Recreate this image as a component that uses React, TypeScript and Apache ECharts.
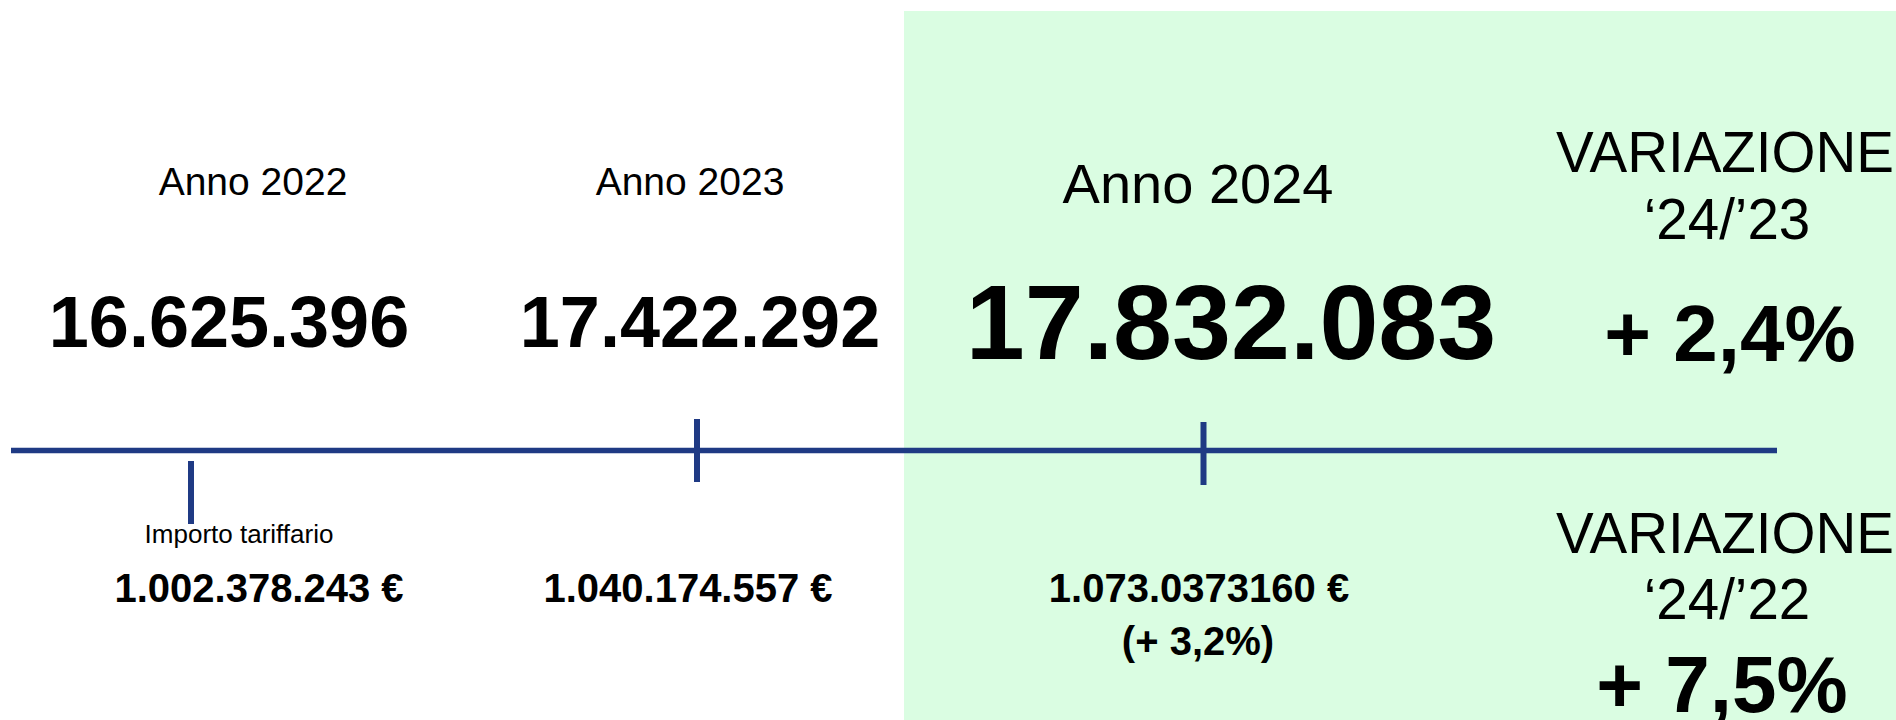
import React, { useEffect, useRef } from "react";
import * as echarts from "echarts";

// ---- data ----
const yearLabels = ["Anno 2022", "Anno 2023", "Anno 2024"];
const totals = ["16.625.396", "17.422.292", "17.832.083"];
const tariffLabel = "Importo tariffario";
const amounts = ["1.002.378.243 €", "1.040.174.557 €", "1.073.0373160 €"];
const amountChange2024 = "(+ 3,2%)";
const variationTitle = "VARIAZIONE";
const variationPeriods = ["‘24/’23", "‘24/’22"];
const variationValues = ["+ 2,4%", "+ 7,5%"];

// ---- layout ----
const FONT = "'Liberation Sans', Arial, sans-serif";
const NAVY = "#1f3a84";
const GREEN = "#dafde2";
const yearX = [253, 690, 1198];
const yearSize = [39, 39, 56];
const totalX = [229, 700, 1231];
const totalSize = [72, 72, 106];
const amountX = [259, 688, 1199];
const varX = 1725;

export default function App() {
  const ref = useRef<HTMLDivElement>(null);

  useEffect(() => {
    document.body.style.margin = "0";
    const chart = echarts.init(ref.current!, null, { renderer: "svg" });
    const txt = (
      text: string,
      x: number,
      y: number,
      size: number,
      bold = false
    ) => ({
      type: "text",
      x,
      y,
      style: {
        text,
        fontFamily: FONT,
        fontSize: size,
        fontWeight: bold ? "bold" : "normal",
        fill: "#000",
        align: "center",
        verticalAlign: "middle",
      },
    });
    const elements: any[] = [
      {
        type: "rect",
        shape: { x: 904, y: 11, width: 992, height: 709 },
        style: { fill: GREEN },
      },
      {
        type: "line",
        shape: { x1: 11, y1: 450.5, x2: 1777, y2: 450.5 },
        style: { stroke: NAVY, lineWidth: 5.5 },
      },
      {
        type: "line",
        shape: { x1: 697, y1: 419, x2: 697, y2: 482 },
        style: { stroke: NAVY, lineWidth: 6 },
      },
      {
        type: "line",
        shape: { x1: 1203.5, y1: 422, x2: 1203.5, y2: 485 },
        style: { stroke: NAVY, lineWidth: 6 },
      },
      {
        type: "line",
        shape: { x1: 191, y1: 461, x2: 191, y2: 524 },
        style: { stroke: NAVY, lineWidth: 6 },
      },
    ];
    yearLabels.forEach((t, i) =>
      elements.push(txt(t, yearX[i], i === 2 ? 183 : 181.5, yearSize[i]))
    );
    totals.forEach((t, i) =>
      elements.push(txt(t, totalX[i], 322, totalSize[i], true))
    );
    elements.push(txt(tariffLabel, 239, 533.5, 26));
    amounts.forEach((t, i) =>
      elements.push(txt(t, amountX[i], 587.5, 40, true))
    );
    elements.push(txt(amountChange2024, 1198, 641, 40, true));
    // variation blocks
    const varTitleY = [152, 533];
    const varPeriodY = [219, 599];
    const varValueY = [333, 684];
    variationPeriods.forEach((p, i) => {
      elements.push(txt(variationTitle, varX, varTitleY[i], 56.5));
      elements.push(txt(p, varX + 2, varPeriodY[i], 56.5));
      elements.push(
        txt(variationValues[i], varX + (i === 0 ? 5 : -3), varValueY[i], 80, true)
      );
    });

    chart.setOption({
      animation: false,
      backgroundColor: "#ffffff",
      graphic: { elements },
    });
    return () => chart.dispose();
  }, []);

  return (
    <div
      ref={ref}
      style={{ position: "absolute", left: 0, top: 0, width: 1896, height: 720 }}
    />
  );
}
